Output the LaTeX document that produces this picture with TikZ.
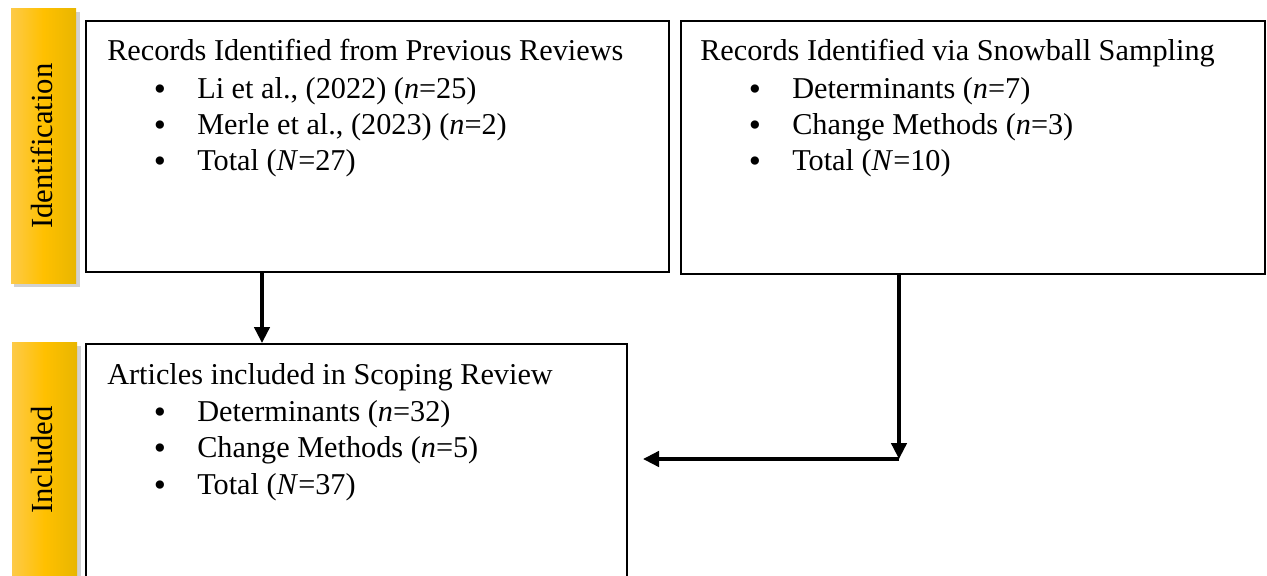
\documentclass[tikz,border=0pt]{standalone}
\usepackage{fontspec}
\setmainfont{Liberation Serif}
\usetikzlibrary{arrows.meta}
\definecolor{barL}{RGB}{253,202,72}
\definecolor{barM}{RGB}{255,192,0}
\definecolor{barR}{RGB}{232,182,0}
\begin{document}
\begin{tikzpicture}[x=0.75pt,y=-0.75pt,
  box/.style={draw=black,line width=1.1pt},
  bar/.style={left color=barL,right color=barR,middle color=barM,draw=none},
  shadowbox/.style={fill=black!30,draw=none,opacity=0.6},
  lbl/.style={font=\fontsize{22.7}{26}\selectfont,anchor=base west,inner sep=0pt},
  bul/.style={font=\fontsize{26}{26}\selectfont,anchor=base,inner sep=0pt},
  side/.style={font=\fontsize{23}{26}\selectfont,rotate=90,inner sep=0pt},
  arr/.style={line width=2.6pt,-{Triangle[length=12pt,width=11.5pt]}}]
\useasboundingbox (0,0) rectangle (1267,575);
% side bars
\fill[shadowbox] (14,12) rectangle (80,287);
\shade[bar] (11,8) rectangle (76,283);
\node[side] (idlab) at (42,146) {Identification};
\fill[shadowbox] (15,346) rectangle (81,579);
\shade[bar] (12,342) rectangle (77,575);
\node[side] (inclab) at (42,460) {Included};
% boxes
\draw[box] (86,21) rectangle (669,272);
\coordinate (b1s) at (262,272);
\draw[box] (681,21) rectangle (1265,274);
\coordinate (b2s) at (899,274);
\draw[box] (86,344) rectangle (627,580);
\coordinate (b3n) at (262,343);
\coordinate (b3e) at (643,459);
\coordinate (corner) at (899,459);
% box 1 text
\node[lbl] (t1) at (107,60) {Records Identified from Previous Reviews};
\node[bul] (b1a) at (160,100) {•};
\node[lbl] (t1a) at (197,98) {Li et al., (2022) (\textit{n}=25)};
\node[bul] (b1b) at (160,136) {•};
\node[lbl] (t1b) at (197,134) {Merle et al., (2023) (\textit{n}=2)};
\node[bul] (b1c) at (160,172) {•};
\node[lbl] (t1c) at (197,170) {Total (\textit{N}=27)};
% box 2 text
\node[lbl] (t2) at (700,60) {Records Identified via Snowball Sampling};
\node[bul] (b2a) at (755,100) {•};
\node[lbl] (t2a) at (792,98) {Determinants (\textit{n}=7)};
\node[bul] (b2b) at (755,136) {•};
\node[lbl] (t2b) at (792,134) {Change Methods (\textit{n}=3)};
\node[bul] (b2c) at (755,172) {•};
\node[lbl] (t2c) at (792,170) {Total (\textit{N}=10)};
% box 3 text
\node[lbl] (t3) at (107,384) {Articles included in Scoping Review};
\node[bul] (b3a) at (160,423) {•};
\node[lbl] (t3a) at (197,421) {Determinants (\textit{n}=32)};
\node[bul] (b3b) at (160,459) {•};
\node[lbl] (t3b) at (197,457) {Change Methods (\textit{n}=5)};
\node[bul] (b3c) at (160,496) {•};
\node[lbl] (t3c) at (197,494) {Total (\textit{N}=37)};
% arrows
\draw[arr] (b1s) -- (b3n);
\draw[arr] (b2s) -- (corner);
\draw[arr] (corner) -- (b3e);
\end{tikzpicture}
\end{document}
